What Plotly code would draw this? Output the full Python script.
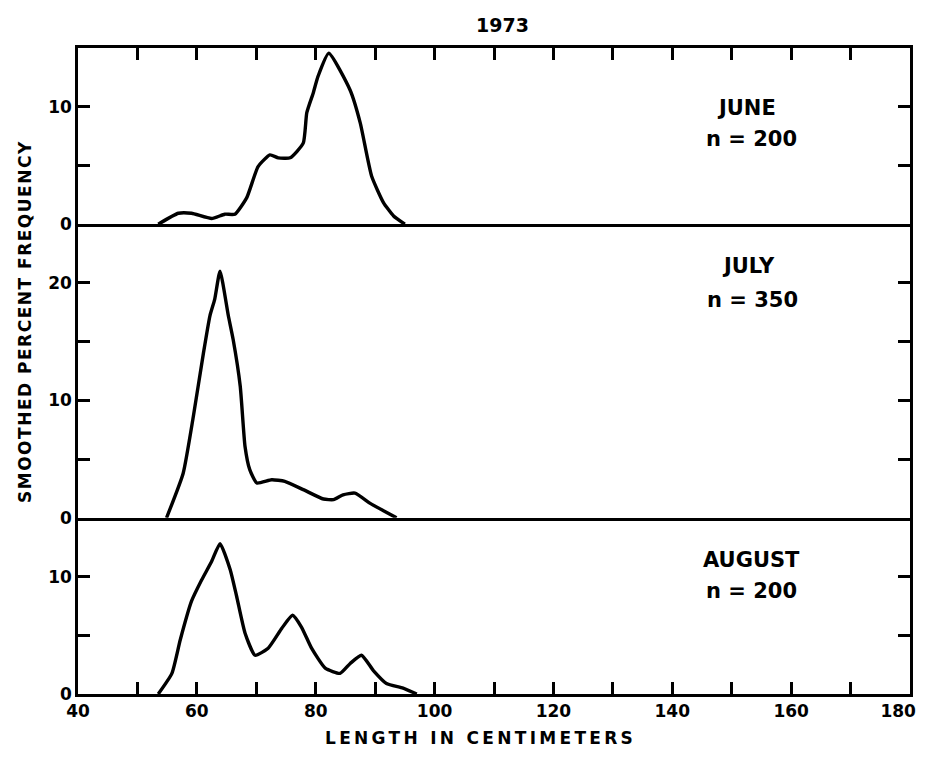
import plotly.graph_objects as go

# ---- data ----
june_x = [53.5, 56.9, 59.1, 62.5, 64.7, 66.4, 68.4, 70.3, 72.3, 73.7, 75.7, 77.9, 78.5, 79.6, 80.4, 82.2, 85.8, 87.5, 89.4, 91.4, 93.1, 95.0]
june_y = [0.0, 0.93, 0.93, 0.48, 0.85, 0.85, 2.26, 4.9, 5.9, 5.65, 5.65, 6.9, 9.5, 11.2, 12.6, 14.55, 11.4, 8.6, 4.1, 1.84, 0.7, 0.0]

july_x = [54.9, 57.7, 59.4, 61.1, 62.2, 63.0, 63.9, 65.3, 66.1, 67.3, 68.1, 68.9, 70.1, 72.6, 74.8, 77.9, 81.3, 83.0, 84.6, 86.6, 89.1, 91.4, 93.6]
july_y = [0.0, 3.8, 8.6, 14.0, 17.2, 18.6, 21.0, 17.2, 15.2, 11.2, 6.1, 4.1, 2.96, 3.24, 3.1, 2.4, 1.6, 1.55, 1.96, 2.1, 1.25, 0.6, 0.0]

aug_x = [53.5, 55.8, 57.2, 59.1, 60.8, 62.5, 63.9, 65.6, 66.7, 68.1, 69.8, 72.0, 74.3, 76.1, 77.6, 79.3, 81.6, 84.1, 85.8, 87.7, 89.7, 91.9, 94.7, 97.0]
aug_y = [0.0, 1.76, 4.6, 7.9, 9.7, 11.3, 12.8, 10.6, 8.3, 5.2, 3.3, 3.9, 5.6, 6.7, 5.7, 3.9, 2.2, 1.76, 2.6, 3.3, 2.0, 0.9, 0.5, 0.0]

x_tickvals = [40, 50, 60, 70, 80, 90, 100, 110, 120, 130, 140, 150, 160, 170, 180]
x_ticktext = ["40", "", "60", "", "80", "", "100", "", "120", "", "140", "", "160", "",
              "180\u00a0\u00a0\u00a0\u00a0"]

june_ytickvals = [0, 5, 10]
june_yticktext = ["0", "", "10"]
july_ytickvals = [0, 5, 10, 15, 20]
july_yticktext = ["0", "", "10", "", "20"]
aug_ytickvals = [0, 5, 10]
aug_yticktext = ["0", "", "10"]

panel_labels = ["JUNE", "n = 200", "JULY", "n = 350", "AUGUST", "n = 200"]

# ---- figure ----
FONT = "DejaVu Sans"
LW = 2.6
line_style = dict(color="black", width=3.4, shape="spline", smoothing=0.5)

fig = go.Figure()
fig.add_trace(go.Scatter(x=aug_x, y=aug_y, mode="lines", line=line_style, xaxis="x", yaxis="y", showlegend=False))
fig.add_trace(go.Scatter(x=july_x, y=july_y, mode="lines", line=line_style, xaxis="x2", yaxis="y2", showlegend=False))
fig.add_trace(go.Scatter(x=june_x, y=june_y, mode="lines", line=line_style, xaxis="x3", yaxis="y3", showlegend=False))

tot = 55.0
d1 = 15 / tot
d2 = 40 / tot

common_x = dict(range=[40, 180], showgrid=False, zeroline=False, showline=True,
                linecolor="black", linewidth=LW, fixedrange=True, automargin=False)
common_y = dict(showgrid=False, zeroline=False, showline=True, linecolor="black",
                linewidth=LW, mirror="ticks", ticks="inside", ticklen=12,
                tickwidth=LW, tickcolor="black", automargin=False, fixedrange=True,
                tickfont=dict(family=FONT, size=17, color="black", weight="bold"))

# page has an 8px body margin: figure is offset by 8px and sized to fit the window
fig.update_layout(
    template="none",
    width=910, height=743,
    margin=dict(l=70, r=8, t=40, b=57),
    paper_bgcolor="white", plot_bgcolor="white",
    xaxis=dict(**common_x, anchor="y", mirror=False, ticks="inside", ticklen=12, tickwidth=LW,
               tickcolor="black", tickvals=x_tickvals, ticktext=x_ticktext,
               ticklabeloverflow="allow",
               tickfont=dict(family=FONT, size=17, color="black", weight="bold")),
    xaxis2=dict(**common_x, anchor="y2", mirror=False, ticks="", showticklabels=False),
    xaxis3=dict(**common_x, anchor="y3", mirror=True, side="top", ticks="inside", ticklen=12,
                tickwidth=LW, tickcolor="black", tickvals=x_tickvals[1:-1],
                showticklabels=False),
    yaxis=dict(**common_y, domain=[0, d1], range=[0, 15],
               tickvals=aug_ytickvals, ticktext=aug_yticktext),
    yaxis2=dict(**common_y, domain=[d1, d2], range=[0, 25],
                tickvals=july_ytickvals, ticktext=july_yticktext),
    yaxis3=dict(**common_y, domain=[d2, 1], range=[0, 15],
                tickvals=june_ytickvals, ticktext=june_yticktext),
)

def px_to_paper(px, py):
    return (px - 78) / 832.0, (694 - py) / 646.0

anns = []
def add_text(text, px, py, size, angle=0):
    x, y = px_to_paper(px, py)
    anns.append(dict(text=text, x=x, y=y, xref="paper", yref="paper",
                     xanchor="center", yanchor="middle", showarrow=False,
                     textangle=angle,
                     font=dict(family=FONT, size=size, color="black", weight="bold")))

add_text("1973", 502, 25, 19)
label_pos = [(746, 108), (751, 139), (748, 266), (752, 300), (751, 560), (751, 591)]
for t, (px, py) in zip(panel_labels, label_pos):
    add_text(t, px, py, 21)
add_text('<span style="letter-spacing:3.3px">LENGTH IN CENTIMETERS</span>', 480, 738, 17)
add_text('<span style="letter-spacing:1.5px">SMOOTHED PERCENT FREQUENCY</span>', 25, 322, 17, angle=-90)
fig.update_layout(annotations=anns)

fig.write_html("out.html")
